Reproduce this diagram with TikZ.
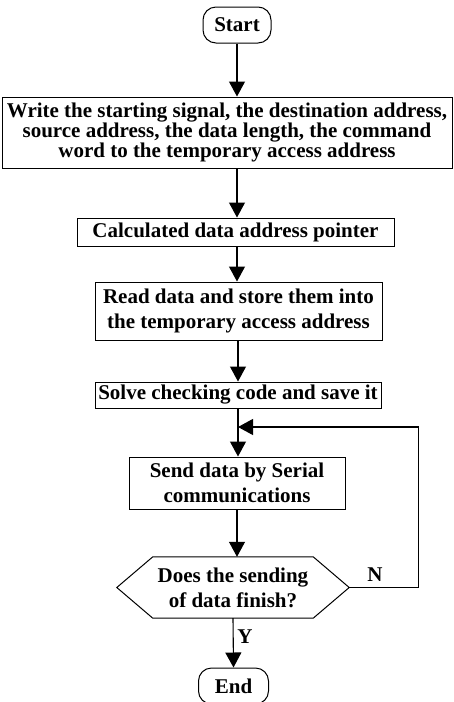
\documentclass[tikz,border=0pt]{standalone}
\usepackage{fontspec}
\setmainfont{Liberation Serif}
\usetikzlibrary{arrows.meta,calc}
\begin{document}
\begin{tikzpicture}[x=1pt,y=-1pt,
  font=\bfseries\fontsize{21}{25}\selectfont,
  box/.style={draw,line width=1pt,inner sep=0pt,align=center},
  term/.style={box,rounded corners=13pt},
  arr/.style={line width=1.1pt,-{Triangle[width=16pt,length=15pt]}},
  lbl/.style={inner sep=0pt}]
\useasboundingbox (0,0) rectangle (454,702);
\node[term,minimum width=68,minimum height=36] (start) at (237,25) {Start};
\node[box,minimum width=450,minimum height=71,font=\bfseries\fontsize{21}{18.5}\selectfont] (b1) at (227,132.5)
  {Write the starting signal, the destination address,\\source address, the data length, the command\\word to the temporary access address};
\node[box,minimum width=317,minimum height=28] (b2) at (235.5,232) {Calculated data address pointer};
\node[box,minimum width=287,minimum height=58] (b3) at (238.5,311) {Read data and store them into\\the temporary access address};
\node[box,minimum width=286,minimum height=26] (b4) at (238,395) {Solve checking code and save it};
\node[box,minimum width=216,minimum height=52] (b5) at (237,483) {Send data by Serial\\communications};
\node[inner sep=0pt,minimum width=232,minimum height=61,align=center] (dec) at (233,587.5) {Does the sending\\of data finish?};
\draw[line width=1pt] ([xshift=36pt]dec.north west) -- ([xshift=-36pt]dec.north east) -- (dec.east)
  -- ([xshift=-36pt]dec.south east) -- ([xshift=36pt]dec.south west) -- (dec.west) -- cycle;
\node[term,minimum width=70,minimum height=36] (end) at (233.5,686) {End};
\coordinate (j) at (238,427);
\coordinate (c1) at (237,0);
\draw[arr] (start.south) -- (start.south |- b1.north);
\draw[arr] (c1 |- b1.south) -- (c1 |- b2.north);
\draw[arr] (c1 |- b2.south) -- (c1 |- b3.north);
\draw[arr] (j |- b3.south) -- (j |- b4.north);
\draw[arr] (j |- b4.south) -- (j |- b5.north);
\draw[arr] (c1 |- b5.south) -- (c1 |- dec.north);
\draw[arr] (dec.south) -- (end.north);
\draw[arr] (dec.east) -- ++(69,0) |- (j);
\node[lbl] (n) at (375,575) {N};
\node[lbl] (y) at (245,637) {Y};
\end{tikzpicture}
\end{document}
